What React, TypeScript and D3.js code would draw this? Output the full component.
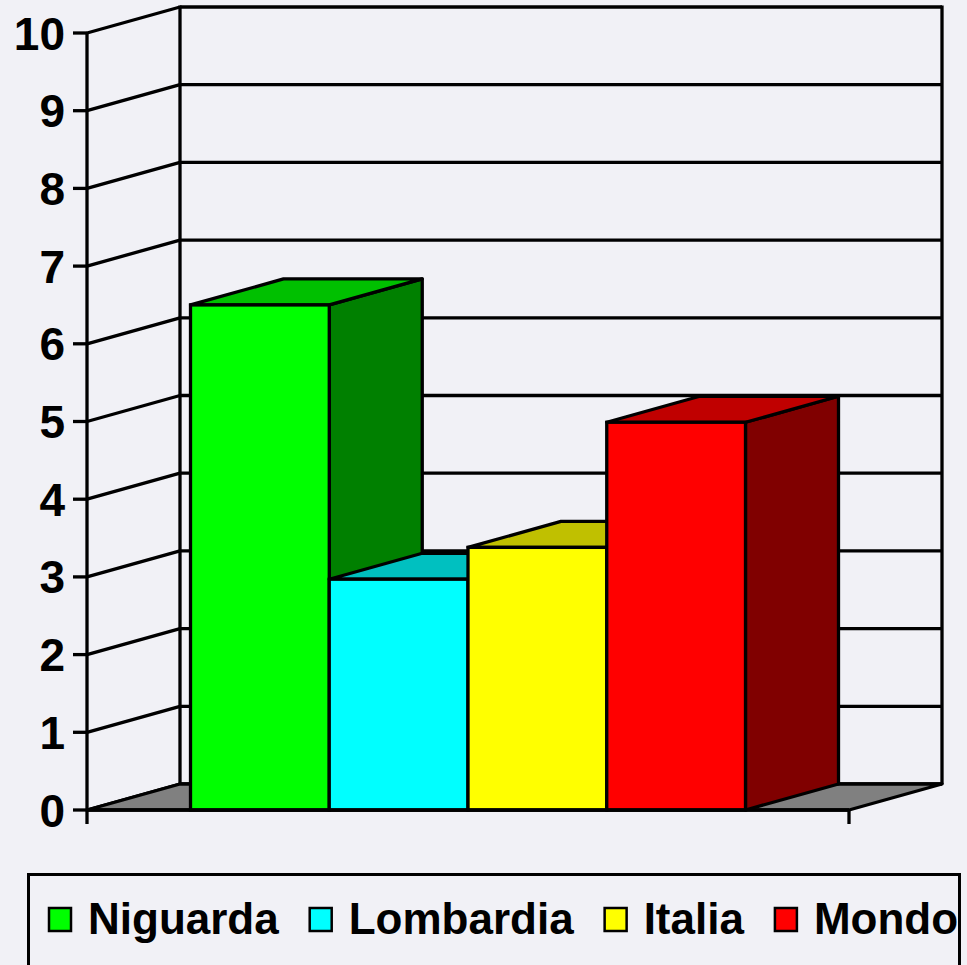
import React, { useEffect, useRef } from "react";
import * as d3 from "d3";

const series = ["Niguarda", "Lombardia", "Italia", "Mondo"];
const values = [6.5, 2.97, 3.38, 4.99];
const frontColors = ["#00FF00", "#00FFFF", "#FFFF00", "#FF0000"];
const topColors = ["#00C000", "#00C0C0", "#C0C000", "#C00000"];
const sideColors = ["#008000", "#008080", "#808000", "#800000"];
const yTicks = [0, 1, 2, 3, 4, 5, 6, 7, 8, 9, 10];

const W = 967;
const H = 965;
const BG = "#F1F1F6";
const FONT = "'Liberation Sans', Arial, Helvetica, sans-serif";

export default function App() {
  const ref = useRef<SVGSVGElement | null>(null);

  useEffect(() => {
    const svg = d3.select(ref.current);
    svg.selectAll("*").remove();

    const x0 = 87, x1 = 849;
    const dx = 93, dy = -26;
    const y = d3.scaleLinear().domain([0, 10]).range([810, 33]);
    const x = d3.scaleBand<string>().domain(series).range([x0, x1]).paddingInner(0).paddingOuter(0.746);
    const sw = 3.3;

    svg.append("rect").attr("width", W).attr("height", H).attr("fill", BG);

    const g = svg.append("g");

    // back wall gridlines
    g.selectAll("line.bgrid").data(yTicks).enter().append("line")
      .attr("x1", x0 + dx).attr("x2", x1 + dx)
      .attr("y1", (d) => y(d) + dy).attr("y2", (d) => y(d) + dy)
      .attr("stroke", "#000").attr("stroke-width", sw);
    // left wall gridlines
    g.selectAll("line.lgrid").data(yTicks).enter().append("line")
      .attr("x1", x0).attr("x2", x0 + dx)
      .attr("y1", (d) => y(d)).attr("y2", (d) => y(d) + dy)
      .attr("stroke", "#000").attr("stroke-width", sw);
    // back wall verticals
    [x0 + dx, x1 + dx].forEach((xx) => {
      g.append("line").attr("x1", xx).attr("x2", xx)
        .attr("y1", y(10) + dy - 1.5).attr("y2", y(0) + dy)
        .attr("stroke", "#000").attr("stroke-width", sw);
    });
    // front vertical axis
    g.append("line").attr("x1", x0).attr("x2", x0).attr("y1", y(10)).attr("y2", y(0) + 14)
      .attr("stroke", "#000").attr("stroke-width", sw);
    // y ticks
    g.selectAll("line.ytick").data(yTicks).enter().append("line")
      .attr("x1", x0 - 14).attr("x2", x0)
      .attr("y1", (d) => y(d)).attr("y2", (d) => y(d))
      .attr("stroke", "#000").attr("stroke-width", sw);
    // y labels
    g.selectAll("text.ylab").data(yTicks).enter().append("text")
      .attr("x", 65).attr("y", (d) => y(d) + 16.5)
      .attr("text-anchor", "end")
      .attr("font-family", FONT).attr("font-weight", "bold").attr("font-size", 46)
      .attr("fill", "#000").text((d) => String(d));

    // floor
    const floor = [[x0, y(0)], [x1, y(0)], [x1 + dx, y(0) + dy], [x0 + dx, y(0) + dy]];
    g.append("polygon").attr("points", floor.map((p) => p.join(",")).join(" "))
      .attr("fill", "#808080").attr("stroke", "#000").attr("stroke-width", sw).attr("stroke-linejoin", "round");

    // bars
    series.forEach((s, i) => {
      const l = x(s)!;
      const r = l + x.bandwidth();
      const t = y(values[i]);
      const b = y(0);
      const side = [[r, t], [r + dx, t + dy], [r + dx, b + dy], [r, b]];
      const top = [[l, t], [l + dx, t + dy], [r + dx, t + dy], [r, t]];
      const bg = g.append("g");
      bg.append("polygon").attr("points", side.map((p) => p.join(",")).join(" "))
        .attr("fill", sideColors[i]).attr("stroke", "#000").attr("stroke-width", sw).attr("stroke-linejoin", "round");
      bg.append("polygon").attr("points", top.map((p) => p.join(",")).join(" "))
        .attr("fill", topColors[i]).attr("stroke", "#000").attr("stroke-width", sw).attr("stroke-linejoin", "round");
      bg.append("rect").attr("x", l).attr("y", t).attr("width", r - l).attr("height", b - t)
        .attr("fill", frontColors[i]).attr("stroke", "#000").attr("stroke-width", sw);
    });

    // bottom axis
    g.append("line").attr("x1", x0).attr("x2", x1).attr("y1", y(0)).attr("y2", y(0))
      .attr("stroke", "#000").attr("stroke-width", sw);
    g.append("line").attr("x1", x1).attr("x2", x1).attr("y1", y(0)).attr("y2", y(0) + 14)
      .attr("stroke", "#000").attr("stroke-width", sw);

    // legend
    const lg = svg.append("g");
    lg.append("rect").attr("x", 28.5).attr("y", 874.5).attr("width", 931).attr("height", 120)
      .attr("fill", "none").attr("stroke", "#000").attr("stroke-width", 3);
    let cx = 48;
    series.forEach((s, i) => {
      lg.append("rect").attr("x", cx + 1).attr("y", 908).attr("width", 22).attr("height", 23)
        .attr("fill", frontColors[i]).attr("stroke", "#000").attr("stroke-width", 2.5);
      const txt = lg.append("text").attr("x", cx + 40).attr("y", 934)
        .attr("font-family", FONT).attr("font-weight", "bold").attr("font-size", 44)
        .attr("fill", "#000").text(s);
      const w = (txt.node() as SVGTextElement).getComputedTextLength();
      cx = cx + 40 + w + 30;
    });
  }, []);

  return (
    <svg ref={ref} width={W} height={H}
      style={{ position: "absolute", left: 0, top: 0, display: "block" }} />
  );
}
